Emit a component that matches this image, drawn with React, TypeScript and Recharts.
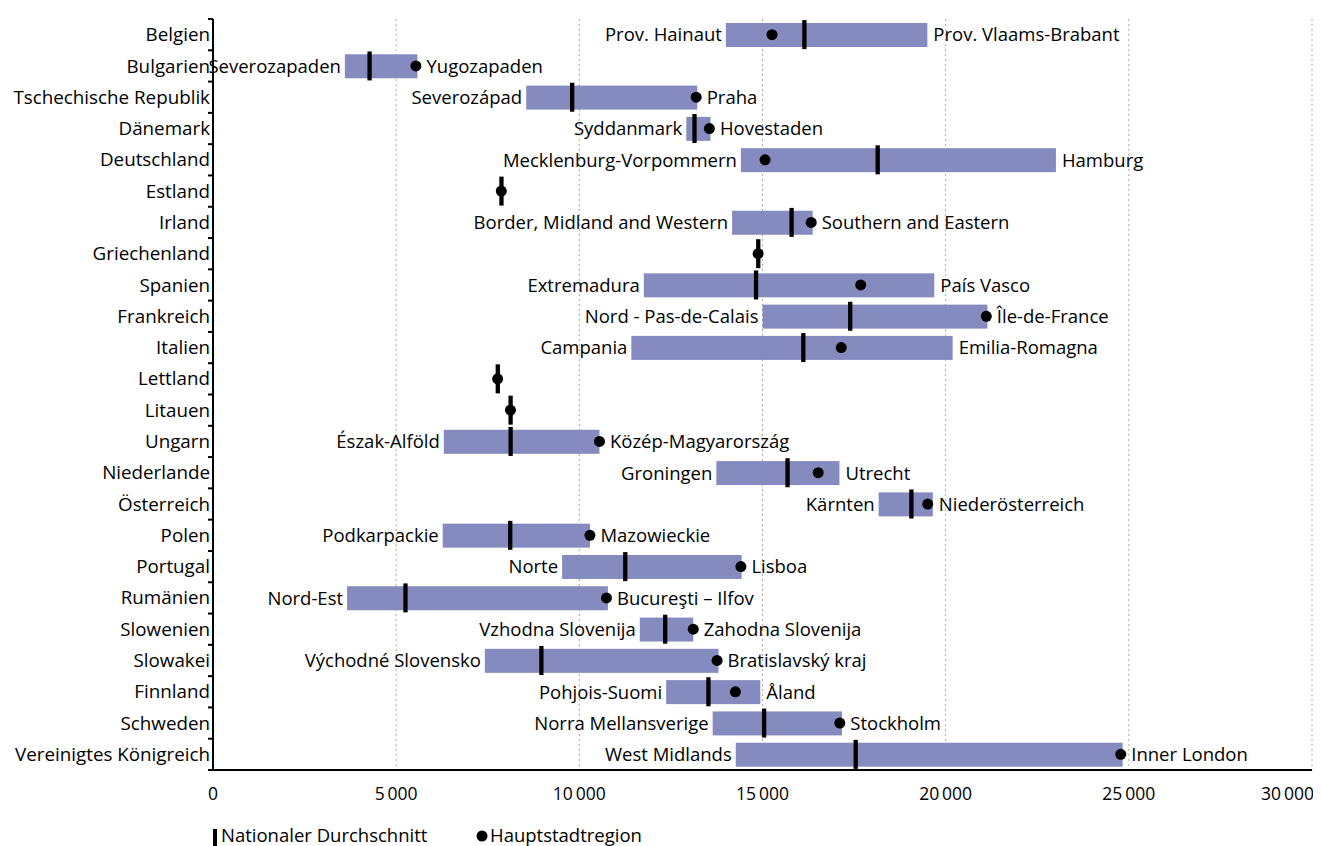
import React from 'react';
import { ComposedChart, Bar, Line, XAxis, YAxis, CartesianGrid } from 'recharts';

// BIP je Einwohner (KKS), Spanne zwischen ärmster und reichster Region
const countries = [
  'Belgien', 'Bulgarien', 'Tschechische Republik', 'Dänemark', 'Deutschland', 'Estland',
  'Irland', 'Griechenland', 'Spanien', 'Frankreich', 'Italien', 'Lettland', 'Litauen',
  'Ungarn', 'Niederlande', 'Österreich', 'Polen', 'Portugal', 'Rumänien', 'Slowenien',
  'Slowakei', 'Finnland', 'Schweden', 'Vereinigtes Königreich',
];
const lowRegions = [
  'Prov. Hainaut', 'Severozapaden', 'Severozápad', 'Syddanmark', 'Mecklenburg-Vorpommern', '',
  'Border, Midland and Western', '', 'Extremadura', 'Nord - Pas-de-Calais', 'Campania', '', '',
  'Észak-Alföld', 'Groningen', 'Kärnten', 'Podkarpackie', 'Norte', 'Nord-Est', 'Vzhodna Slovenija',
  'Východné Slovensko', 'Pohjois-Suomi', 'Norra Mellansverige', 'West Midlands',
];
const highRegions = [
  'Prov. Vlaams-Brabant', 'Yugozapaden', 'Praha', 'Hovestaden', 'Hamburg', '',
  'Southern and Eastern', '', 'País Vasco', 'Île-de-France', 'Emilia-Romagna', '', '',
  'Közép-Magyarország', 'Utrecht', 'Niederösterreich', 'Mazowieckie', 'Lisboa', 'Bucureşti – Ilfov',
  'Zahodna Slovenija', 'Bratislavský kraj', 'Åland', 'Stockholm', 'Inner London',
];
const lowValues = [
  14000, 3600, 8550, 12920, 14410, null, 14170, null, 11760, 15000, 11420, null, null,
  6300, 13740, 18170, 6270, 9530, 3660, 11650, 7420, 12370, 13640, 14270,
];
const highValues = [
  19500, 5580, 13220, 13580, 23010, null, 16370, null, 19690, 21140, 20190, null, null,
  10550, 17100, 19650, 10290, 14430, 10780, 13110, 13800, 14940, 17170, 24830,
];
const nationalAverage = [
  16140, 4270, 9800, 13140, 18140, 7870, 15790, 14880, 14820, 17390, 16110, 7770, 8120,
  8120, 15680, 19060, 8110, 11250, 5250, 12340, 8960, 13520, 15040, 17540,
];
const capitalRegion = [
  15260, 5540, 13190, 13550, 15070, 7870, 16330, 14880, 17680, 21110, 17150, 7770, 8120,
  10550, 16520, 19510, 10290, 14410, 10740, 13110, 13760, 14260, 17110, 24780,
];
const xTicks = [0, 5000, 10000, 15000, 20000, 25000, 30000];

const data = countries.map((country, i) => ({
  country,
  range: lowValues[i] == null ? null : [lowValues[i], highValues[i]],
  low: lowRegions[i],
  high: highRegions[i],
  avg: nationalAverage[i],
  cap: capitalRegion[i],
}));

const FONT = "'Open Sans', sans-serif";
const INK = '#000';
const BAR_COLOR = '#858bbf';
const W = 1305;
const H = 800;
const TOP = 11;
const AXIS_H = 38;
const BAND = (H - TOP - AXIS_H) / countries.length;

const fmt = (v: number) => String(v).replace(/\B(?=(\d{3})+(?!\d))/g, '\u2009');

function CountryTick(props: any) {
  const { x, y, payload, index } = props;
  return (
    <g>
      <line x1={x - 5} x2={x} y1={y - BAND / 2} y2={y - BAND / 2} stroke={INK} strokeWidth={2} />
      {index === countries.length - 1 && (
        <line x1={x - 5} x2={x} y1={y + BAND / 2} y2={y + BAND / 2} stroke={INK} strokeWidth={2} />
      )}
      <text x={x - 3} y={y} dy="0.35em" textAnchor="end" fontSize={18.8} fontFamily={FONT} fill={INK}>
        {payload.value}
      </text>
    </g>
  );
}

function ValueTick(props: any) {
  const { x, y, payload, index } = props;
  const last = index === xTicks.length - 1;
  return (
    <text x={last ? x + 2 : x} y={y + 30} textAnchor={last ? 'end' : 'middle'} fontSize={17.5} fontFamily={FONT} fill={INK}>
      {fmt(payload.value)}
    </text>
  );
}

function RangeShape(props: any) {
  const { x, y, width, height, payload } = props;
  if (!payload || !payload.range) return <g />;
  const [lo, hi] = payload.range;
  const capX = x + ((payload.cap - lo) / (hi - lo)) * width;
  const right = Math.max(x + width + 6, capX + 5.5 + 5);
  const cy = y + height / 2;
  return (
    <g>
      <rect x={x} y={y} width={width} height={height} fill={BAR_COLOR} />
      <text x={x - 4} y={cy} dy="0.35em" textAnchor="end" fontSize={18.5} fontFamily={FONT} fill={INK}>
        {payload.low}
      </text>
      <text x={right} y={cy} dy="0.35em" textAnchor="start" fontSize={18.5} fontFamily={FONT} fill={INK}>
        {payload.high}
      </text>
    </g>
  );
}

const AvgMark = (p: any) =>
  p.cx == null || p.value == null ? (
    <g key={`a${p.index}`} />
  ) : (
    <rect key={`a${p.index}`} x={p.cx - 2} y={p.cy - 14.5} width={4.3} height={29} fill={INK} />
  );

const CapMark = (p: any) =>
  p.cx == null || p.value == null ? (
    <g key={`c${p.index}`} />
  ) : (
    <circle key={`c${p.index}`} cx={p.cx} cy={p.cy} r={5.5} fill={INK} />
  );

export default function App() {
  return (
    <div style={{ position: 'relative', width: W, height: 838, fontFamily: FONT }}>
      <ComposedChart
        width={W}
        height={H}
        data={data}
        layout="vertical"
        margin={{ top: TOP, right: 1, bottom: 0, left: 0 }}
      >
        <CartesianGrid horizontal={false} stroke="#aaa" strokeDasharray="2 3" />
        <XAxis
          type="number"
          domain={[0, 30000]}
          ticks={xTicks}
          height={AXIS_H}
          tickLine={false}
          tickSize={0}
          tickMargin={0}
          tick={<ValueTick />}
          axisLine={{ stroke: INK, strokeWidth: 2 }}
          interval={0}
        />
        <YAxis
          type="category"
          dataKey="country"
          width={205}
          tickLine={false}
          tickSize={0}
          tickMargin={0}
          tick={<CountryTick />}
          axisLine={{ stroke: INK, strokeWidth: 2 }}
          interval={0}
        />
        <Bar dataKey="range" barSize={24} shape={<RangeShape />} isAnimationActive={false} />
        <Line dataKey="avg" stroke="none" dot={AvgMark} activeDot={false} isAnimationActive={false} />
        <Line dataKey="cap" stroke="none" dot={CapMark} activeDot={false} isAnimationActive={false} />
      </ComposedChart>
      <svg width={W} height={38} style={{ position: 'absolute', left: 0, top: H }}>
        <rect x={205} y={21} width={4} height={20} fill={INK} />
        <text x={213} y={34} fontSize={18.5} fontFamily={FONT} fill={INK}>Nationaler Durchschnitt</text>
        <circle cx={474} cy={28} r={5.5} fill={INK} />
        <text x={482} y={34} fontSize={18.5} fontFamily={FONT} fill={INK}>Hauptstadtregion</text>
      </svg>
    </div>
  );
}
